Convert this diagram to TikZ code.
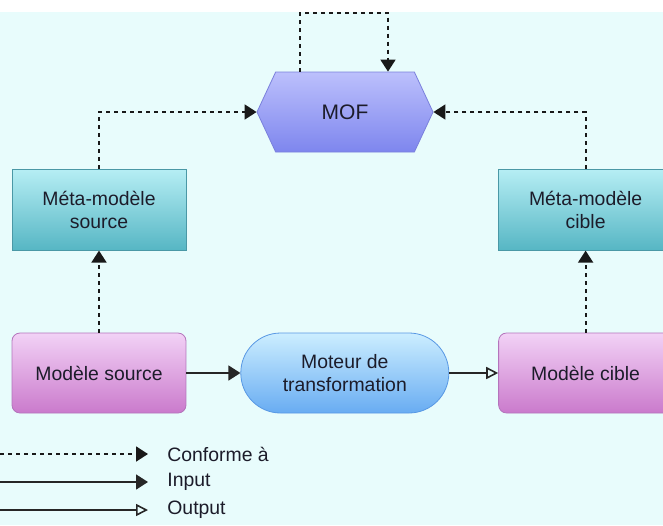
\documentclass[tikz,border=0pt]{standalone}
\usepackage{fontspec}
\setmainfont{Liberation Sans}
\usepackage{xcolor}
\usetikzlibrary{arrows.meta, shapes.symbols, positioning}

\definecolor{bgcyan}{HTML}{E8FCFC}
\definecolor{txtgray}{HTML}{1C1C2A}
\definecolor{moftop}{HTML}{BCC0FC}
\definecolor{mofbot}{HTML}{7E86EE}
\definecolor{mofline}{HTML}{7A80DC}
\definecolor{metatop}{HTML}{B6EEF4}
\definecolor{metabot}{HTML}{56B6C4}
\definecolor{metaline}{HTML}{4A98A6}
\definecolor{modtop}{HTML}{F2D2F6}
\definecolor{modbot}{HTML}{CA7ACC}
\definecolor{modline}{HTML}{B474BC}
\definecolor{mottop}{HTML}{CCEEFF}
\definecolor{motbot}{HTML}{68ACF2}
\definecolor{motline}{HTML}{5898E4}

\begin{document}
\begin{tikzpicture}[x=0.5pt, y=-0.5pt, font=\fontsize{9.7}{11.5}\selectfont,
  text=txtgray, >={Triangle[length=6pt, width=7.5pt]},
  box/.style={draw, minimum width=87pt, minimum height=40pt, align=center, inner sep=2pt},
  meta/.style={box, minimum height=40.5pt, draw=metaline, top color=metatop, bottom color=metabot},
  modele/.style={box, rounded corners=4pt, draw=modline, top color=modtop, bottom color=modbot},
  moteur/.style={box, minimum width=104pt, rounded corners=19.9pt, draw=motline, top color=mottop, bottom color=motbot},
  mofst/.style={signal, signal to=west and east, signal pointer angle=130,
    minimum width=88pt, minimum height=40pt, draw=mofline, top color=moftop,
    bottom color=mofbot, font=\fontsize{10.5}{12}\selectfont},
  legtxt/.style={inner sep=0pt},
  conf/.style={->, draw=black!90, dash pattern=on 2pt off 2pt, line width=0.9pt},
  inp/.style={->, draw=black!85, line width=0.8pt},
  outp/.style={-{Triangle[open, length=6pt, width=6pt]}, draw=black!85, line width=0.8pt}]
  \fill[bgcyan] (0,12) rectangle (663,525);
  \useasboundingbox (0,0) rectangle (663,525);

  % models and transformation engine
  \node[modele] (msrc) at (99,373) {Modèle source};
  \node[moteur, right=27pt of msrc] (mot) {Moteur de\\transformation};
  \node[modele, right=24.5pt of mot] (mcib) {Modèle cible};

  % metamodels
  \node[meta, above=41pt of msrc] (mmsrc) {Méta-modèle\\source};
  \node[meta, above=41pt of mcib] (mmcib) {Méta-modèle\\cible};
  \node[mofst] (mof) at (345,112) {MOF};

  \draw[inp] (msrc) -- (mot);
  \draw[outp] (mot) -- (mcib);
  \draw[conf] (msrc) -- (mmsrc);
  \draw[conf] (mcib) -- (mmcib);
  \draw[conf] (mmsrc.north) |- (mof.west);
  \draw[conf] (mmcib.north) |- (mof.east);
  \draw[conf] ([xshift=-22.5pt]mof.north) -- ++(0,-59) -| ([xshift=21.5pt]mof.north);

  % legend
  \coordinate (lc) at (0,454);
  \coordinate (li) at (0,482);
  \coordinate (lo) at (0,510);
  \node[legtxt, right=83.5pt of lc] (tconf) {Conforme à};
  \node[legtxt, right=83.5pt of li] (tinp) {Input};
  \node[legtxt, right=83.5pt of lo] (tout) {Output};
  \draw[conf] (lc) -- ([xshift=-9.5pt]tconf.west);
  \draw[inp] (li) -- ([xshift=-9.5pt]tinp.west);
  \draw[outp] (lo) -- ([xshift=-9.5pt]tout.west);
\end{tikzpicture}
\end{document}
